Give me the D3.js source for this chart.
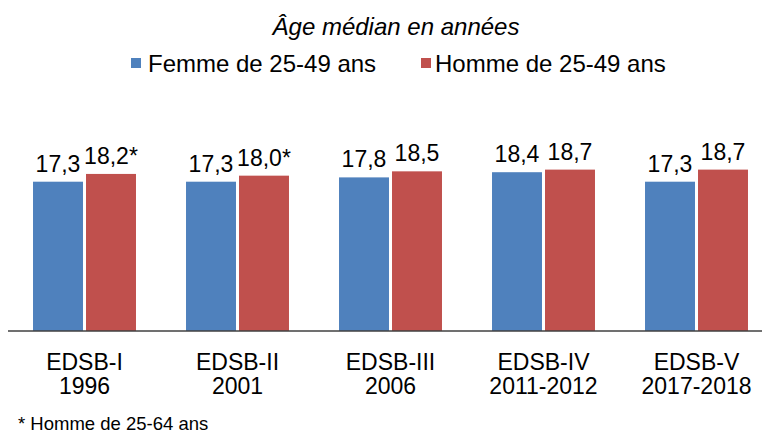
<!DOCTYPE html>
<html>
<head>
<meta charset="utf-8">
<script src="https://cdn.jsdelivr.net/npm/d3@7"></script>
<style>
  html, body { margin: 0; padding: 0; background: #fff; }
  svg { display: block; font-family: "Liberation Sans", Arial, sans-serif; }
</style>
</head>
<body>
<svg id="chart" width="762" height="434"></svg>
<script>
const surveys = ["EDSB-I", "EDSB-II", "EDSB-III", "EDSB-IV", "EDSB-V"];
const years = ["1996", "2001", "2006", "2011-2012", "2017-2018"];
const femmeValues = [17.3, 17.3, 17.8, 18.4, 17.3];
const hommeValues = [18.2, 18.0, 18.5, 18.7, 18.7];
const hommeNotes = ["*", "*", "", "", ""];
const seriesNames = ["Femme de 25-49 ans", "Homme de 25-49 ans"];
const seriesColors = ["#4F81BD", "#C0504D"];
const titleText = "Âge médian en années";
const footnoteText = "* Homme de 25-64 ans";

const svg = d3.select("#chart");

const x0 = d3.scaleBand().domain(surveys).range([8, 773]).paddingInner(0.327).paddingOuter(0.1635);
const x1 = d3.scaleBand().domain([0, 1]).range([0, x0.bandwidth()]).paddingInner(0.057);
const y = d3.scaleLinear().domain([0, 20]).range([331, 158.4]);

const fmt = v => d3.format(".1f")(v).replace(".", ",");

// title
svg.append("text")
  .attr("x", 396).attr("y", 35)
  .attr("text-anchor", "middle")
  .attr("font-size", 24).attr("font-style", "italic")
  .attr("fill", "#000")
  .text(titleText);

// legend
const legendPos = [{sx: 131, tx: 148}, {sx: 421, tx: 435}];
seriesNames.forEach((name, i) => {
  svg.append("rect")
    .attr("x", legendPos[i].sx).attr("y", 58)
    .attr("width", 10).attr("height", 10)
    .attr("fill", seriesColors[i]);
  svg.append("text")
    .attr("x", legendPos[i].tx).attr("y", 72)
    .attr("font-size", 24).attr("fill", "#000")
    .text(name);
});

const rows = surveys.map((s, i) => ({
  survey: s, year: years[i],
  vals: [
    {k: 0, v: femmeValues[i], note: ""},
    {k: 1, v: hommeValues[i], note: hommeNotes[i]}
  ]
}));

const g = svg.append("g").selectAll("g").data(rows).join("g")
  .attr("transform", d => `translate(${x0(d.survey)},0)`);

g.selectAll("rect").data(d => d.vals).join("rect")
  .attr("x", d => x1(d.k))
  .attr("y", d => y(d.v))
  .attr("width", x1.bandwidth())
  .attr("height", d => y(0) - y(d.v))
  .attr("fill", d => seriesColors[d.k]);

g.selectAll("text.val").data(d => d.vals).join("text")
  .attr("class", "val")
  .attr("x", d => x1(d.k) + x1.bandwidth() / 2)
  .attr("y", d => y(d.v) - 10)
  .attr("text-anchor", "middle")
  .attr("font-size", 23).attr("fill", "#000")
  .text(d => fmt(d.v) + d.note);

// axis line
const axis = d3.axisBottom(x0).tickSize(0).tickFormat("");
const axG = svg.append("g").attr("transform", `translate(0,${y(0)})`).call(axis);
axG.select(".domain").attr("stroke", "#404040").attr("stroke-width", 1.5)
  .attr("d", "M8,0H762");

// category labels
g.append("text")
  .attr("x", x0.bandwidth() / 2).attr("y", 370)
  .attr("text-anchor", "middle").attr("font-size", 23).attr("fill", "#000")
  .text(d => d.survey);
g.append("text")
  .attr("x", x0.bandwidth() / 2).attr("y", 394)
  .attr("text-anchor", "middle").attr("font-size", 23).attr("fill", "#000")
  .text(d => d.year);

// footnote
svg.append("text")
  .attr("x", 18).attr("y", 430)
  .attr("font-size", 18.5).attr("fill", "#000")
  .text(footnoteText);
</script>
</body>
</html>
